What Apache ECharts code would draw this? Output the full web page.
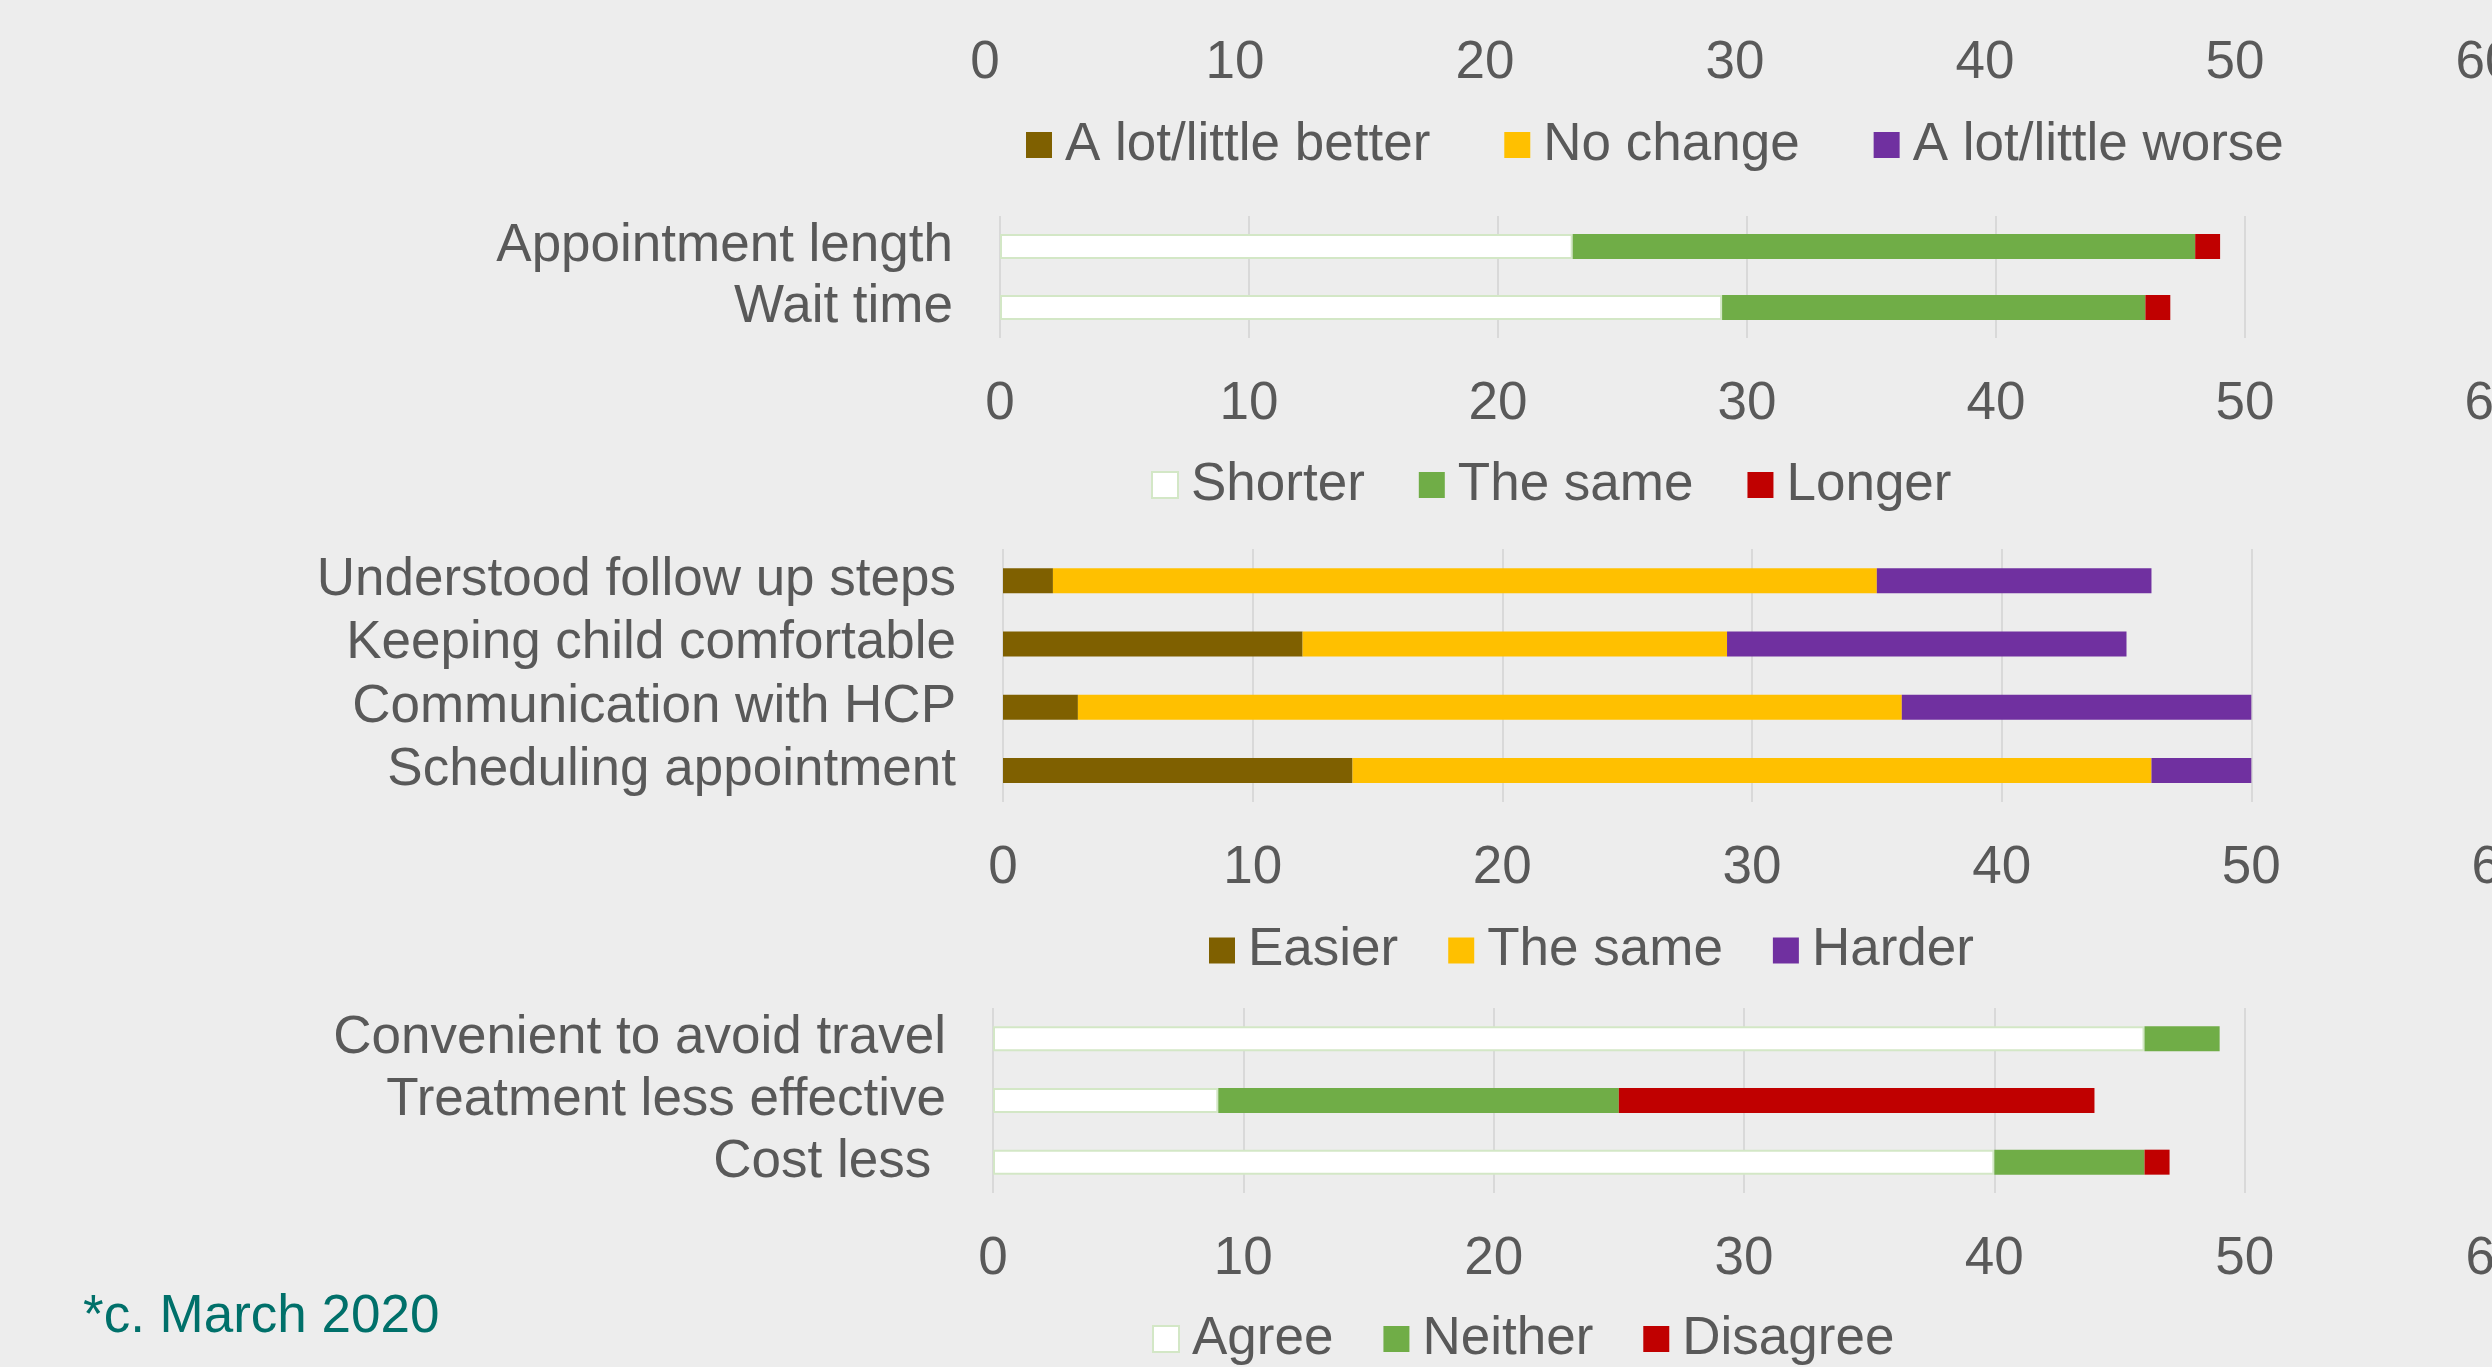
<!DOCTYPE html>
<html>
<head>
<meta charset="utf-8">
<script src="https://cdn.jsdelivr.net/npm/echarts@6/dist/echarts.min.js"></script>
<style>
  html, body { margin: 0; padding: 0; background: #EDEDED; }
  #chart { width: 2492px; height: 1367px; }
</style>
</head>
<body>
<div id="chart"></div>
<script>
// x axis shared by all panels
const xMin = 0, xMax = 60, xStep = 10;

// panel 1 (cut off at the top, only axis + legend visible)
const changeNames = ['A lot/little better', 'No change', 'A lot/little worse'];

// panel 2: appointment time
const timeCats = ['Appointment length', 'Wait time'];
const shorter = [23, 29];
const sameTime = [25, 17];
const longer = [1, 1];

// panel 3: ease
const easeCats = ['Understood follow up steps', 'Keeping child comfortable', 'Communication with HCP', 'Scheduling appointment'];
const easier = [2, 12, 3, 14];
const sameEase = [33, 17, 33, 32];
const harder = [11, 16, 14, 4];

// panel 4: opinions
const opinionCats = ['Convenient to avoid travel', 'Treatment less effective', 'Cost less '];
const agree = [46, 9, 40];
const neither = [3, 16, 6];
const disagree = [0, 19, 1];

const FONT = '"Liberation Sans", Arial, sans-serif';
const TXT = '#595959';
const FS = 53;

const BROWN = '#7F6000', YELLOW = '#FFC000', PURPLE = '#7030A0';
const GREEN = '#70AD47', RED = '#C00000';

// no auto-fit of labels: the panels are cropped at the edges
const grids = [
  { left: 985, width: 1500, top: -100, height: 97 },
  { left: 1000, width: 1494, top: 216, height: 122 },
  { left: 1003, width: 1498, top: 549, height: 253 },
  { left: 993, width: 1502, top: 1008, height: 185 }
].map(g => Object.assign(g, { containLabel: false, outerBoundsMode: 'none' }));

const xAxes = grids.map((g, i) => ({
  type: 'value', gridIndex: i, min: xMin, max: xMax, interval: xStep,
  axisLine: { show: false }, axisTick: { show: false },
  splitLine: { lineStyle: { color: '#D9D9D9', width: 2 } },
  axisLabel: { color: TXT, fontSize: FS, fontFamily: FONT, margin: 40 }
}));

const catLists = [[], timeCats, easeCats, opinionCats];
const yAxes = catLists.map((c, i) => ({
  type: 'category', gridIndex: i, data: c, inverse: true,
  axisLine: { show: false }, axisTick: { show: false },
  axisLabel: { color: TXT, fontSize: FS, fontFamily: FONT, margin: 47, interval: 0, padding: [6, 0, 0, 0] }
}));

function bar(name, idx, data, color, white) {
  return {
    name: name, type: 'bar', stack: 's' + idx,
    xAxisIndex: idx, yAxisIndex: idx,
    barWidth: 25, data: data,
    itemStyle: white
      ? { color: '#FFFFFF', borderColor: '#D3E7C6', borderWidth: 2 }
      : { color: color },
    emphasis: { disabled: true }
  };
}

function legend(names, left, centerY, gap) {
  return {
    data: names, left: left, top: centerY - 25, padding: 0,
    itemWidth: 26, itemHeight: 26, itemGap: gap, icon: 'rect',
    selectedMode: false,
    formatter: n => n.replace(' (ease)', ''),
    textStyle: { color: TXT, fontSize: FS, fontFamily: FONT, lineHeight: FS, padding: [0, 0, 0, 8] }
  };
}

const option = {
  backgroundColor: '#EDEDED',
  animation: false,
  grid: grids,
  xAxis: xAxes,
  yAxis: yAxes,
  legend: [
    legend(changeNames, 1026, 143.5, 74),
    legend(['Shorter', 'The same', 'Longer'], 1151, 483.5, 54),
    legend(['Easier', 'The same (ease)', 'Harder'], 1209, 949, 50),
    legend(['Agree', 'Neither', 'Disagree'], 1152, 1337.5, 50)
  ],
  graphic: [{
    type: 'text', left: 83, top: 1291,
    style: { text: '*c. March 2020', fill: '#00706A', fontSize: FS, fontFamily: FONT }
  }],
  series: [
    bar(changeNames[0], 0, [], BROWN),
    bar(changeNames[1], 0, [], YELLOW),
    bar(changeNames[2], 0, [], PURPLE),
    bar('Shorter', 1, shorter, null, true),
    bar('The same', 1, sameTime, GREEN),
    bar('Longer', 1, longer, RED),
    bar('Easier', 2, easier, BROWN),
    bar('The same (ease)', 2, sameEase, YELLOW),
    bar('Harder', 2, harder, PURPLE),
    bar('Agree', 3, agree, null, true),
    bar('Neither', 3, neither, GREEN),
    bar('Disagree', 3, disagree, RED)
  ]
};

const chart = echarts.init(document.getElementById('chart'));
chart.setOption(option);
</script>
</body>
</html>
